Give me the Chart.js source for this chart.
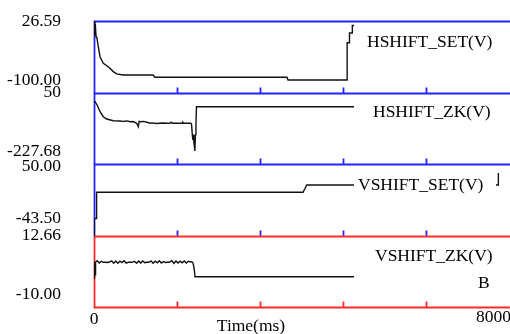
<!DOCTYPE html>
<html>
<head>
<meta charset="utf-8">
<script src="https://cdn.jsdelivr.net/npm/chart.js@4"></script>
<style>
  html, body { margin: 0; padding: 0; background: #fff; overflow: hidden; }
</style>
</head>
<body>
<canvas id="chart" width="510" height="334"></canvas>
<script>
// time axis (ms)
var timeMin = 0, timeMax = 8000;
var timeTicks = [1600, 3200, 4800, 6400];

// HSHIFT_SET(V)
var hsetT = [0, 15, 25, 40, 52, 83, 116, 179, 276, 372, 438, 559, 1138, 1176, 3721, 3740, 4878, 4880, 4920, 4925, 4975, 4980, 5000, 8000];
var hsetV = [26.59, -5, 20, -8, -7, -28.6, -50, -64, -71.5, -82, -87, -89.3, -89.3, -94.2, -94.2, -100, -100, -20, -20, 1, 1, 17, 17, 17];

// HSHIFT_ZK(V)
var hzkT = [0, 20, 60, 116, 179, 245, 372, 501, 560, 630, 700, 760, 823, 854, 870, 900, 960, 1016, 1080, 1120, 1209, 1260, 1336, 1400, 1465, 1490, 1510, 1700, 1710, 1730, 1865, 1880, 1895, 1905, 1915, 1925, 1945, 1955, 1965, 1975, 8000];
var hzkV = [6.3, 6.3, -9.3, -41, -65, -76, -84, -85, -87, -85, -89, -88, -96, -112, -87, -89, -87, -91, -96, -94, -97, -96, -95, -96, -96, -91, -96, -96, -91, -96, -96, -100, -150, -175, -150, -185, -227.68, -150, -110, -17.4, -17.4];

// VSHIFT_SET(V)
var vsetT = [0, 5, 45, 50, 4030, 4070, 4100, 7790, 7795];
var vsetV = [-74, -43.5, -43.5, 3.6, 3.6, 10.8, 16.7, 16.7, 38.3];

// VSHIFT_ZK(V)
var vzkT = [0, 10, 20, 30, 60, 100, 140, 180, 220, 260, 300, 340, 380, 420, 460, 500, 540, 580, 620, 660, 700, 740, 780, 820, 860, 900, 940, 980, 1020, 1060, 1100, 1140, 1180, 1220, 1260, 1300, 1340, 1380, 1420, 1460, 1500, 1540, 1580, 1620, 1660, 1700, 1740, 1780, 1820, 1860, 1880, 1903, 1915, 1934, 1947, 8000];
var vzkV = [-3.8, 2.6, -2.5, 2.4, 2.9, 2.0, 2.7, 2.3, 2.3, 2.2, 2.4, 2.8, 1.9, 2.8, 1.9, 2.7, 2.2, 2.9, 2.0, 2.3, 2.3, 2.3, 2.7, 1.9, 2.8, 2.0, 2.8, 2.1, 2.3, 2.3, 2.8, 1.9, 2.7, 2.1, 2.9, 2.0, 2.6, 2.2, 2.3, 2.4, 2.9, 1.9, 2.8, 2.0, 2.7, 2.1, 2.8, 2.0, 2.7, 2.4, 2.6, 2.2, 1.5, -0.6, -3.3, -3.3];

// per panel axis ranges and tick labels (top to bottom)
var panelIds = ['p1', 'p2', 'p3', 'p4'];
var panelMin = [-126.8, -289.4, -74.1, -15.0];
var panelMax = [26.59, 50, 54.5, 12.66];
var panelTicks = [[-100, 26.59], [-227.68, 50], [-43.5, 50], [-10, 12.66]];
var panelTickLabels = [['-100.00', '26.59'], ['-227.68', '50'], ['-43.50', '50.00'], ['-10.00', '12.66']];
var panelNames = ['HSHIFT_SET(V)', 'HSHIFT_ZK(V)', 'VSHIFT_SET(V)', 'VSHIFT_ZK(V)'];
var panelColors = ['#2323ff', '#2323ff', '#2323ff', '#ff2a2a'];

var FONT = '17.5px "Liberation Serif", "Times New Roman", serif';

function pts(t, v){ return t.map(function(x, i){ return {x: x, y: v[i]}; }); }

function yScale(i){
  return {
    type: 'linear', position: 'left', stack: 'panels', stackWeight: 1, weight: 4 - i,
    min: panelMin[i], max: panelMax[i],
    grid: { display: false, drawTicks: false },
    border: { display: false },
    afterFit: function(s){
      s.width = 94;
      // the big label gap should not push the plot area in
      s.paddingTop = 0; s.paddingBottom = 0;
    },
    afterBuildTicks: function(s){ s.ticks = panelTicks[i].map(function(v){ return {value: v}; }); },
    ticks: {
      autoSkip: false, padding: 33, color: '#000',
      font: { family: '"Liberation Serif", "Times New Roman", serif', size: 17.5 },
      callback: function(v, idx){ return panelTickLabels[i][idx]; }
    }
  };
}

function line(data, axis){
  return { data: data, yAxisID: axis, borderColor: '#111', borderWidth: 1.4, pointRadius: 0, tension: 0, fill: false };
}

function crisp(y){ return Math.round(y) + 0.5; }

// frames drawn under the traces, label boxes over them
var frames = {
  id: 'frames',
  beforeDatasetsDraw: function(chart){
    var ctx = chart.ctx, xs = chart.scales.x, area = chart.chartArea;
    ctx.save();
    ctx.lineWidth = 1.8;
    // bottom ticks first, then each panel's top + left edge (lower panel wins the shared line)
    panelIds.forEach(function(id, i){
      var s = chart.scales[id], yb = crisp(s.bottom);
      ctx.strokeStyle = panelColors[i];
      ctx.beginPath();
      timeTicks.forEach(function(t){
        var px = Math.round(xs.getPixelForValue(t)) + 0.5;
        ctx.moveTo(px, yb); ctx.lineTo(px, yb - 6);
      });
      ctx.stroke();
    });
    panelIds.forEach(function(id, i){
      var s = chart.scales[id], yt = crisp(s.top), yb = crisp(s.bottom), xl = crisp(area.left);
      ctx.strokeStyle = panelColors[i];
      ctx.beginPath();
      ctx.moveTo(area.right + 2, yt); ctx.lineTo(xl, yt); ctx.lineTo(xl, yb);
      if (i === panelIds.length - 1) ctx.lineTo(area.right + 2, yb);
      ctx.stroke();
    });
    ctx.restore();
  },
  afterDatasetsDraw: function(chart){
    var ctx = chart.ctx, xs = chart.scales.x;
    ctx.save();
    ctx.fillStyle = '#fff';
    ctx.fillRect(354, 23, 160, 37);
    ctx.fillRect(354, 97, 160, 31);
    ctx.fillRect(354, 176, 142, 20);
    ctx.fillRect(354, 243, 160, 55);
    ctx.fillStyle = '#000';
    ctx.font = FONT;
    ctx.textBaseline = 'middle';
    ctx.textAlign = 'left';
    ctx.fillText(panelNames[0], 367, 42);
    ctx.fillText(panelNames[1], 373, 112);
    ctx.fillText(panelNames[2], 358, 185);
    ctx.fillText(panelNames[3], 375, 256);
    ctx.fillText('B', 478, 283);
    // time axis labels
    ctx.textAlign = 'center';
    ctx.fillText(String(timeMin), xs.getPixelForValue(timeMin), 319);
    ctx.fillText('Time(ms)', 251, 326);
    ctx.textAlign = 'right';
    ctx.fillText(String(timeMax), 511, 317);
    ctx.restore();
  }
};

new Chart(document.getElementById('chart'), {
  type: 'line',
  data: {
    datasets: [
      line(pts(hsetT, hsetV), 'p1'),
      line(pts(hzkT, hzkV), 'p2'),
      line(pts(vsetT, vsetV), 'p3'),
      line(pts(vzkT, vzkV), 'p4')
    ]
  },
  options: {
    responsive: false,
    animation: false,
    layout: { padding: { left: 0, right: 1, top: 21, bottom: 27 } },
    plugins: { legend: { display: false }, tooltip: { enabled: false } },
    scales: {
      x: { type: 'linear', min: timeMin, max: timeMax, display: false },
      p1: yScale(0),
      p2: yScale(1),
      p3: yScale(2),
      p4: yScale(3)
    }
  },
  plugins: [frames]
});
</script>
</body>
</html>
